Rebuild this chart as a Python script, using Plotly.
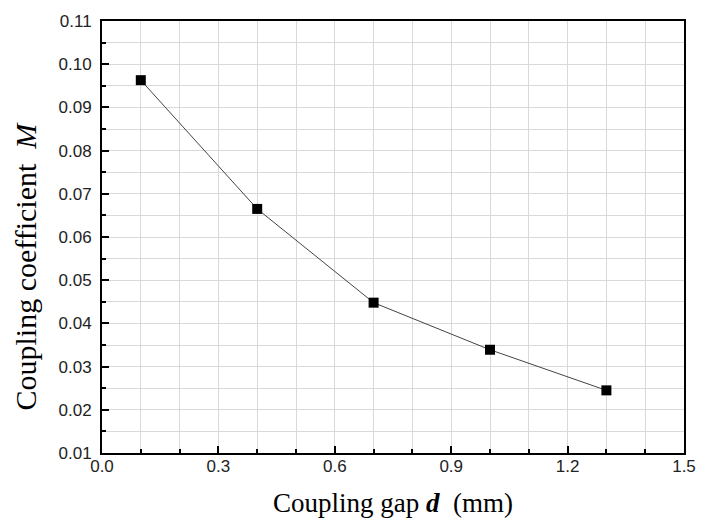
import plotly.graph_objects as go

# Coupling gap d (mm) and corresponding coupling coefficient M
gap_mm = [0.1, 0.4, 0.7, 1.0, 1.3]
coupling_m = [0.0963, 0.0665, 0.0448, 0.0339, 0.0245]

x_ticks = [0.0, 0.3, 0.6, 0.9, 1.2, 1.5]
y_ticks = [0.01, 0.02, 0.03, 0.04, 0.05, 0.06, 0.07, 0.08, 0.09, 0.10, 0.11]

fig = go.Figure()
fig.add_trace(go.Scatter(
    x=gap_mm, y=coupling_m,
    mode="lines+markers",
    line=dict(color="#444444", width=1),
    marker=dict(symbol="square", size=10, color="black"),
    showlegend=False,
))

axis_common = dict(
    showline=True, linecolor="black", linewidth=2, mirror=True,
    ticks="inside", ticklen=7, tickwidth=2, tickcolor="black",
    showgrid=True, gridcolor="#d9d9d9", gridwidth=1,
    zeroline=False,
    tickfont=dict(family="Liberation Sans, Arial", size=17, color="#222222"),
)

fig.update_xaxes(
    range=[0, 1.5], tickvals=x_ticks, tickformat=".1f",
    ticklabelstandoff=-3,
    minor=dict(dtick=0.1, ticks="inside", ticklen=4, tickwidth=2, tickcolor="black",
               showgrid=True, gridcolor="#d9d9d9", gridwidth=1),
    **axis_common,
)
fig.update_yaxes(
    range=[0.01, 0.11], tickvals=y_ticks, tickformat=".2f",
    ticklabelstandoff=5,
    minor=dict(dtick=0.005, ticks="inside", ticklen=4, tickwidth=2, tickcolor="black",
               showgrid=True, gridcolor="#d9d9d9", gridwidth=1),
    **axis_common,
)

title_font = dict(family="Liberation Serif, Times New Roman", color="black")

# Axis titles placed as annotations for precise positioning
fig.add_annotation(
    text="Coupling gap <b><i>d</i></b>  (mm)",
    xref="paper", yref="paper", x=0.5, y=-0.116,
    xanchor="center", yanchor="middle", showarrow=False,
    font=dict(size=27, **title_font),
)
fig.add_annotation(
    text="Coupling coefficient  <i>M</i>",
    xref="paper", yref="paper", x=-0.132, y=0.432,
    xanchor="center", yanchor="middle", showarrow=False, textangle=-90,
    font=dict(size=30, **title_font),
)

fig.update_layout(
    width=708, height=526,
    margin=dict(l=102, r=14, t=18, b=73),
    paper_bgcolor="white", plot_bgcolor="white",
)

fig.write_html("out.html")
